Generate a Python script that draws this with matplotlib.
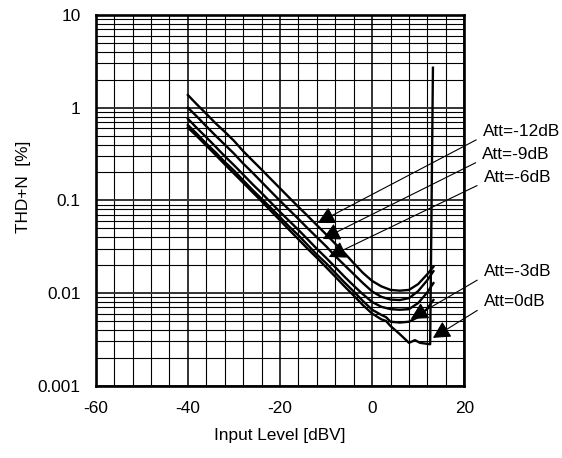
import numpy as np
import matplotlib
matplotlib.use("Agg")
import matplotlib.pyplot as plt
from matplotlib.ticker import FixedLocator, LogLocator, NullFormatter, FixedFormatter

plt.rcParams['font.family'] = ['Liberation Sans', 'DejaVu Sans']
plt.rcParams['axes.unicode_minus'] = False

# input level [dBV]
x_common = [-40, -38, -36, -34, -32, -30, -28, -26, -24, -22, -20, -18, -16, -14,
            -12, -10, -8, -6, -4, -2, 0, 2, 4, 6, 8, 10, 12, 13.3]

# THD+N [%] per attenuation setting
thd_m12 = [1.37, 1.08, 0.86, 0.68, 0.55, 0.44, 0.34, 0.27, 0.215, 0.17, 0.135, 0.107,
           0.085, 0.068, 0.054, 0.043, 0.034, 0.027, 0.021, 0.0165, 0.0135, 0.0118,
           0.0108, 0.0106, 0.0108, 0.0125, 0.016, 0.0192]
thd_m9 = [1.0, 0.80, 0.63, 0.50, 0.40, 0.32, 0.25, 0.20, 0.158, 0.125, 0.099, 0.079,
          0.063, 0.050, 0.040, 0.032, 0.025, 0.020, 0.016, 0.0128, 0.0104, 0.0091,
          0.0085, 0.0084, 0.0088, 0.0105, 0.0138, 0.0172]
thd_m6 = [0.76, 0.60, 0.48, 0.38, 0.30, 0.24, 0.19, 0.15, 0.12, 0.095, 0.075, 0.060,
          0.048, 0.038, 0.030, 0.024, 0.019, 0.015, 0.012, 0.0097, 0.0080, 0.0071,
          0.0067, 0.0066, 0.0067, 0.0078, 0.0102, 0.0128]

x_m3 = [-40, -38, -36, -34, -32, -30, -28, -26, -24, -22, -20, -18, -16, -14,
        -12, -10, -8, -6, -4, -2, 0, 2, 3, 4, 6, 8, 10, 12, 13.3]
thd_m3 = [0.65, 0.52, 0.41, 0.33, 0.26, 0.21, 0.165, 0.13, 0.104, 0.083, 0.066, 0.052,
          0.042, 0.033, 0.026, 0.021, 0.0165, 0.013, 0.0104, 0.0082, 0.0066, 0.0058,
          0.0055, 0.0049, 0.0048, 0.0049, 0.0055, 0.0068, 0.0084]

x_0 = [-40, -38, -36, -34, -32, -30, -28, -26, -24, -22, -20, -18, -16, -14,
       -12, -10, -8, -6, -4, -2, 0, 2, 3, 4, 6, 8, 9.3, 10.4, 12.6, 13.2]
thd_0 = [0.61, 0.49, 0.39, 0.31, 0.245, 0.195, 0.155, 0.123, 0.098, 0.077, 0.061, 0.048,
         0.038, 0.030, 0.024, 0.019, 0.015, 0.0118, 0.0094, 0.0074, 0.0060, 0.0052,
         0.0050, 0.0044, 0.0036, 0.0029, 0.0031, 0.0029, 0.0028, 2.7]

labels = ["Att=-12dB", "Att=-9dB", "Att=-6dB", "Att=-3dB", "Att=0dB"]
label_x = [24.0, 23.9, 24.2, 24.2, 24.2]
label_y = [0.547, 0.309, 0.1746, 0.0169, 0.0080]
tip_x = [-11.8, -10.7, -9.4, 8.4, 13.2]
tip_y = [0.057, 0.0383, 0.0245, 0.00525, 0.00328]

fig = plt.figure(figsize=(5.62, 4.58), dpi=100)
ax = fig.add_axes([0.1703, 0.1579, 0.6558, 0.8093])

for xs, ys in [(x_common, thd_m12), (x_common, thd_m9), (x_common, thd_m6),
               (x_m3, thd_m3), (x_0, thd_0)]:
    ax.plot(xs, ys, color="black", lw=1.7, zorder=3)

ax.set_yscale("log")
ax.set_xlim(-60, 20)
ax.set_ylim(0.001, 10)

ax.xaxis.set_major_locator(FixedLocator([-60, -40, -20, 0, 20]))
ax.xaxis.set_minor_locator(FixedLocator(np.arange(-56, 20, 4)))
ax.yaxis.set_major_locator(FixedLocator([0.001, 0.01, 0.1, 1, 10]))
ax.yaxis.set_major_formatter(FixedFormatter(["0.001", "0.01", "0.1", "1", "10"]))
ax.yaxis.set_minor_locator(LogLocator(base=10, subs=np.arange(2, 10), numticks=20))
ax.yaxis.set_minor_formatter(NullFormatter())

ax.grid(which="minor", color="black", lw=0.8)
ax.grid(which="major", color="#333333", lw=1.4)
ax.tick_params(which="both", length=0, labelsize=12.4, pad=11)

for s in ax.spines.values():
    s.set_linewidth(1.9)

ax.set_xlabel("Input Level [dBV]", fontsize=12.4, labelpad=9)
ax.set_ylabel("THD+N  [%]", fontsize=12.4)
ax.yaxis.set_label_coords(-0.176, 0.536)

for lab, lx, ly, tx, ty in zip(labels, label_x, label_y, tip_x, tip_y):
    ax.annotate(lab, xy=(tx, ty), xytext=(lx, ly), fontsize=12.4,
                ha="left", va="center", annotation_clip=False,
                arrowprops=dict(arrowstyle="-|>,head_length=0.85,head_width=0.45",
                                color="black", lw=0.8, relpos=(0, 0.2),
                                shrinkA=3, shrinkB=0))

fig.savefig("out.png", dpi=100)
